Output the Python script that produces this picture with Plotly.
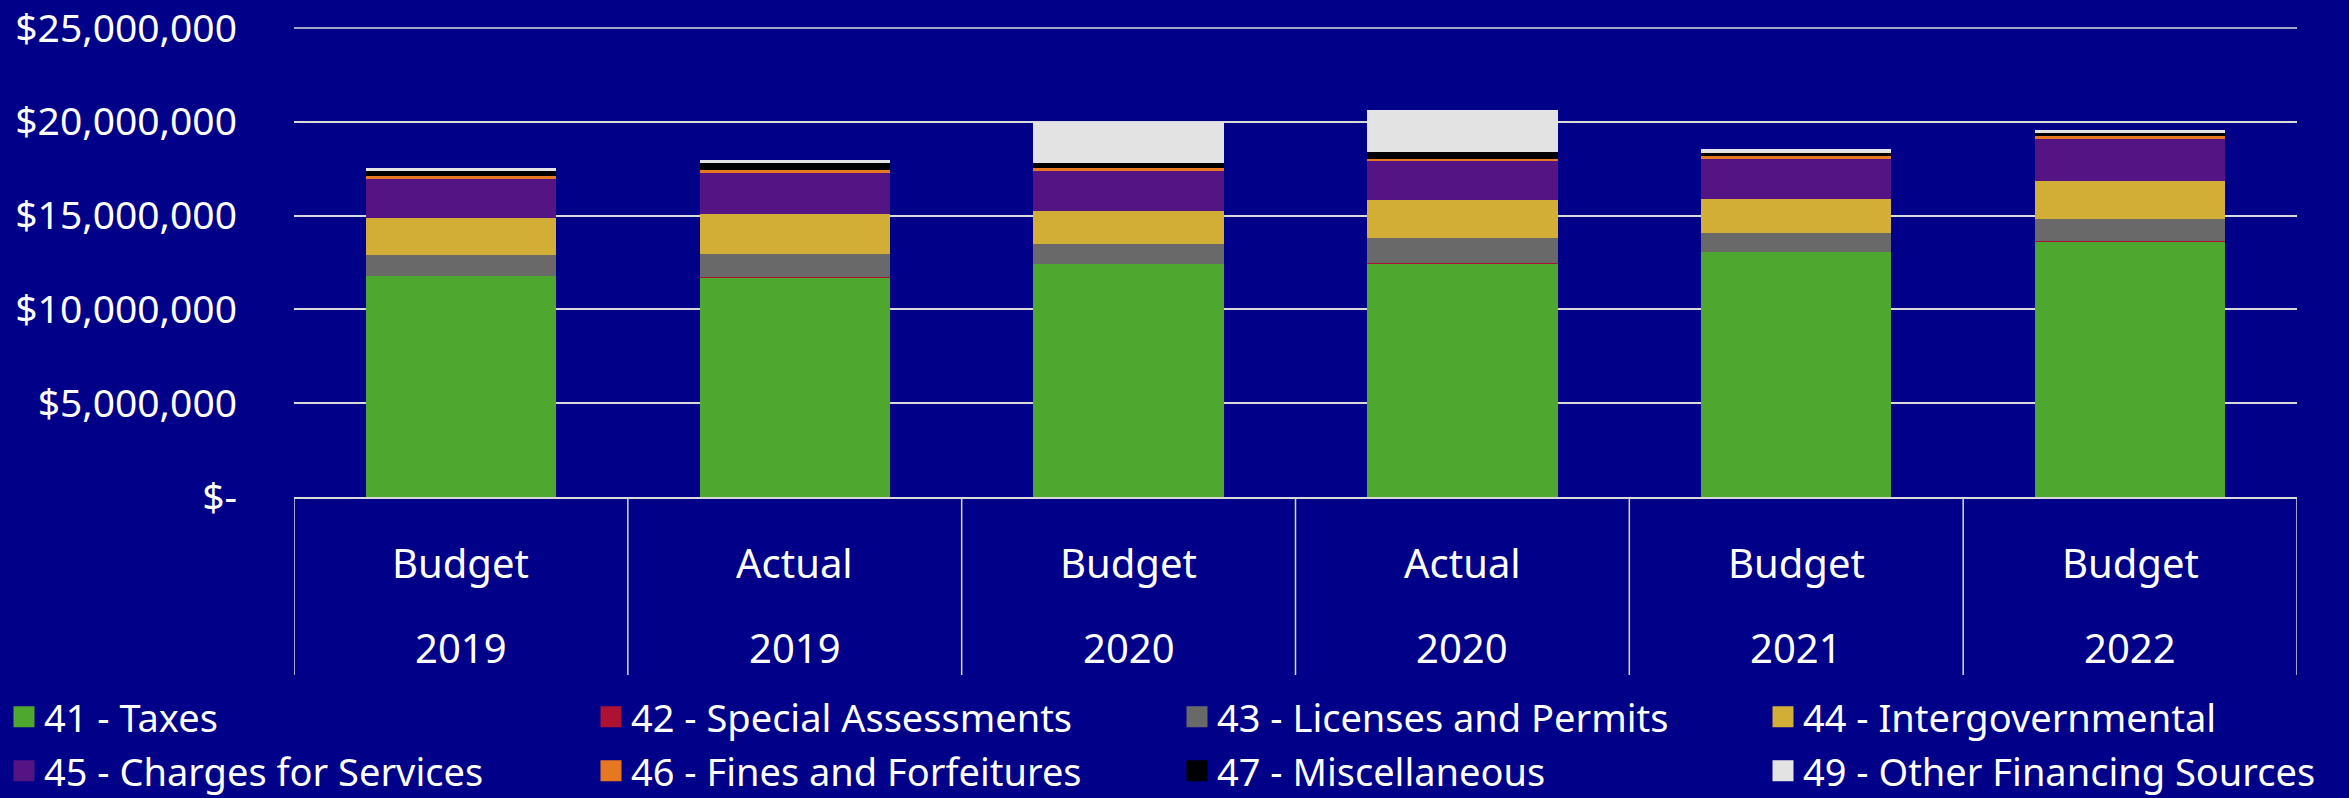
import plotly.graph_objects as go

# revenue by source (dollars), one value per column
kinds = ["Budget", "Actual", "Budget", "Actual", "Budget", "Budget"]
years = ["2019", "2019", "2020", "2020", "2021", "2022"]

taxes = [11760000, 11710000, 12420000, 12450000, 13040000, 13620000]
special = [0, 20000, 0, 40000, 0, 40000]
licenses = [1150000, 1240000, 1080000, 1300000, 1040000, 1150000]
intergov = [1970000, 2140000, 1730000, 2030000, 1790000, 2040000]
charges = [2080000, 2160000, 2160000, 2090000, 2140000, 2240000]
fines = [160000, 140000, 160000, 110000, 160000, 150000]
misc = [240000, 370000, 230000, 370000, 190000, 160000]
other = [170000, 180000, 2190000, 2230000, 180000, 170000]

y_ticks = [0, 5000000, 10000000, 15000000, 20000000, 25000000]

series = [
    ("41 - Taxes", taxes, "#4EA72E"),
    ("42 - Special Assessments", special, "#AD1233"),
    ("43 - Licenses and Permits", licenses, "#696969"),
    ("44 - Intergovernmental", intergov, "#D3AE37"),
    ("45 - Charges for Services", charges, "#551483"),
    ("46 - Fines and Forfeitures", fines, "#E87722"),
    ("47 - Miscellaneous", misc, "#000000"),
    ("49 - Other Financing Sources", other, "#E3E3E3"),
]

BG = "#000088"
GRID = "#D9D9D9"
FONT = "Noto Sans"

W, H = 2349, 798
L, R, T, B = 294, 52, 27, 301
plot_h = H - T - B
plot_w = W - L - R

# legend grid: left edge of each column, centre of each row (pixels)
leg_cols = [4, 591, 1177, 1763]
leg_rows = [717, 771]


def below(px):
    # pixels below the x axis -> paper y
    return -px / plot_h


xs = list(range(len(kinds)))

fig = go.Figure()

for name, vals, color in series:
    fig.add_trace(go.Bar(
        x=xs, y=vals, name=name, showlegend=False,
        marker=dict(color=color, line=dict(width=0)),
    ))

# one small legend per entry so the 4x2 grid can be placed freely
legends = {}
for i, (name, vals, color) in enumerate(series):
    key = "legend" if i == 0 else f"legend{i + 1}"
    fig.add_trace(go.Scatter(
        x=[None], y=[None], mode="markers", name=name, legend=key,
        marker=dict(symbol="square", size=16, color=color,
                    line=dict(color=color, width=5)),
    ))
    col, row = i % 4, i // 4
    legends[key] = dict(
        orientation="h", x=(leg_cols[col] - L) / plot_w, xanchor="left",
        y=below(leg_rows[row] - (T + plot_h)), yanchor="middle",
        font=dict(size=38, color="white", family=FONT),
        bgcolor="rgba(0,0,0,0)",
    )

# category labels under the axis
ann = []
for i, (k, yr) in enumerate(zip(kinds, years)):
    ann.append(dict(x=i, y=below(65), xref="x", yref="paper", text=k,
                    yanchor="middle", showarrow=False,
                    font=dict(size=40, color="white", family=FONT)))
    ann.append(dict(x=i, y=below(150), xref="x", yref="paper", text=yr,
                    yanchor="middle", showarrow=False,
                    font=dict(size=40, color="white", family=FONT)))

shapes = []
for i in range(len(kinds) + 1):
    shapes.append(dict(type="line", xref="x", yref="paper",
                       x0=i - 0.5, x1=i - 0.5, y0=0, y1=below(178),
                       line=dict(color=GRID, width=1.5)))
# top gridline (plotly clips grid lines at the range edge)
shapes.append(dict(type="line", xref="paper", yref="y", x0=0, x1=1,
                   y0=y_ticks[-1], y1=y_ticks[-1], layer="below",
                   line=dict(color=GRID, width=1.5)))

fig.update_layout(
    width=W, height=H,
    barmode="stack", bargap=0.43,
    paper_bgcolor=BG, plot_bgcolor=BG,
    margin=dict(l=L, r=R, t=T, b=B, autoexpand=False),
    font=dict(family=FONT, color="white", size=38),
    annotations=ann, shapes=shapes,
    xaxis=dict(
        range=[-0.5, len(kinds) - 0.5], showticklabels=False, showgrid=False,
        zeroline=False, showline=True, linecolor=GRID, linewidth=1.5,
    ),
    yaxis=dict(
        range=[0, y_ticks[-1] * 1.002], tickvals=y_ticks,
        ticktext=["$-" if v == 0 else f"${v:,.0f}" for v in y_ticks],
        showgrid=True, gridcolor=GRID, gridwidth=1.5, zeroline=False,
        ticklabelstandoff=56, ticklabeloverflow="allow",
        tickfont=dict(size=39, color="white"),
    ),
    **legends,
)

fig.write_html(
    "out.html",
    config={"displayModeBar": False},
    post_script="document.body.style.margin='0';"
                "document.body.style.background='" + BG + "';",
)
